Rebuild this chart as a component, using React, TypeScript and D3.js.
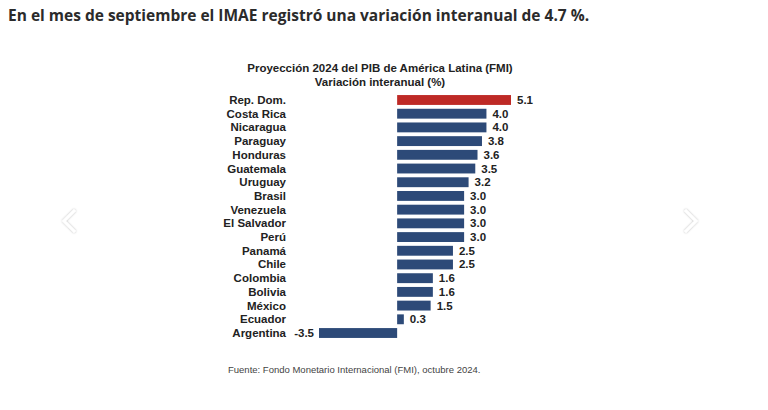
import React from "react";
import * as d3 from "d3";

const countries = ["Rep. Dom.","Costa Rica","Nicaragua","Paraguay","Honduras","Guatemala","Uruguay","Brasil","Venezuela","El Salvador","Perú","Panamá","Chile","Colombia","Bolivia","México","Ecuador","Argentina"];
const values = [5.1,4.0,4.0,3.8,3.6,3.5,3.2,3.0,3.0,3.0,3.0,2.5,2.5,1.6,1.6,1.5,0.3,-3.5];
const highlight = ["Rep. Dom."];

export default function App() {
  const W = 768, H = 410;
  const x = d3.scaleLinear().domain([-3.5, 5.1]).range([319, 511]);
  const y = d3.scaleBand().domain(countries).range([93, 340]).paddingInner(0.28).paddingOuter(0.15);
  const fmt = (v: number) => (v < 0 ? "-" : "") + d3.format(".1f")(Math.abs(v));
  const f = "'Liberation Sans', Arial, sans-serif";
  return (
    <svg width={W} height={H} style={{ position: "absolute", left: 0, top: 0 }} xmlns="http://www.w3.org/2000/svg">
      <defs>
        <filter id="sh" x="-50%" y="-50%" width="200%" height="200%">
          <feDropShadow dx="0" dy="0" stdDeviation="1.2" floodColor="#000" floodOpacity="0.3" />
        </filter>
      </defs>
      <rect width={W} height={H} fill="#fff" />
      <text x={8} y={21} fontFamily="'Open Sans', sans-serif" fontWeight={700} fontSize={15.5} fill="#2b2b2b">
        En el mes de septiembre el IMAE registró una variación interanual de 4.7 %.
      </text>
      <text x={380} y={72} textAnchor="middle" fontFamily={f} fontWeight={700} fontSize={11.5} fill="#222">Proyección 2024 del PIB de América Latina (FMI)</text>
      <text x={380} y={86} textAnchor="middle" fontFamily={f} fontWeight={700} fontSize={11.5} fill="#222">Variación interanual (%)</text>
      {countries.map((c, i) => {
        const v = values[i];
        const yy = y(c)!;
        const bh = y.bandwidth();
        const x0 = x(Math.min(0, v));
        const x1 = x(Math.max(0, v));
        const cy = yy + bh / 2;
        return (
          <g key={c}>
            <text x={286} y={cy + 4} textAnchor="end" fontFamily={f} fontWeight={700} fontSize={11.5} fill="#222">{c}</text>
            <rect x={x0} y={yy} width={x1 - x0} height={bh} fill={highlight.includes(c) ? "#BE2A26" : "#2D4A78"} />
            <text x={v >= 0 ? x1 + 6 : x0 - 5} y={cy + 4} textAnchor={v >= 0 ? "start" : "end"} fontFamily={f} fontWeight={700} fontSize={11.5} fill="#222">{fmt(v)}</text>
          </g>
        );
      })}
      <text x={228} y={373} fontFamily={f} fontSize={9.5} fill="#444">Fuente: Fondo Monetario Internacional (FMI), octubre 2024.</text>
      <polyline points="75,210 64,221 75,232" fill="none" stroke="#fff" strokeWidth={3} filter="url(#sh)" />
      <polyline points="685,210 696,221 685,232" fill="none" stroke="#fff" strokeWidth={3} filter="url(#sh)" />
    </svg>
  );
}
